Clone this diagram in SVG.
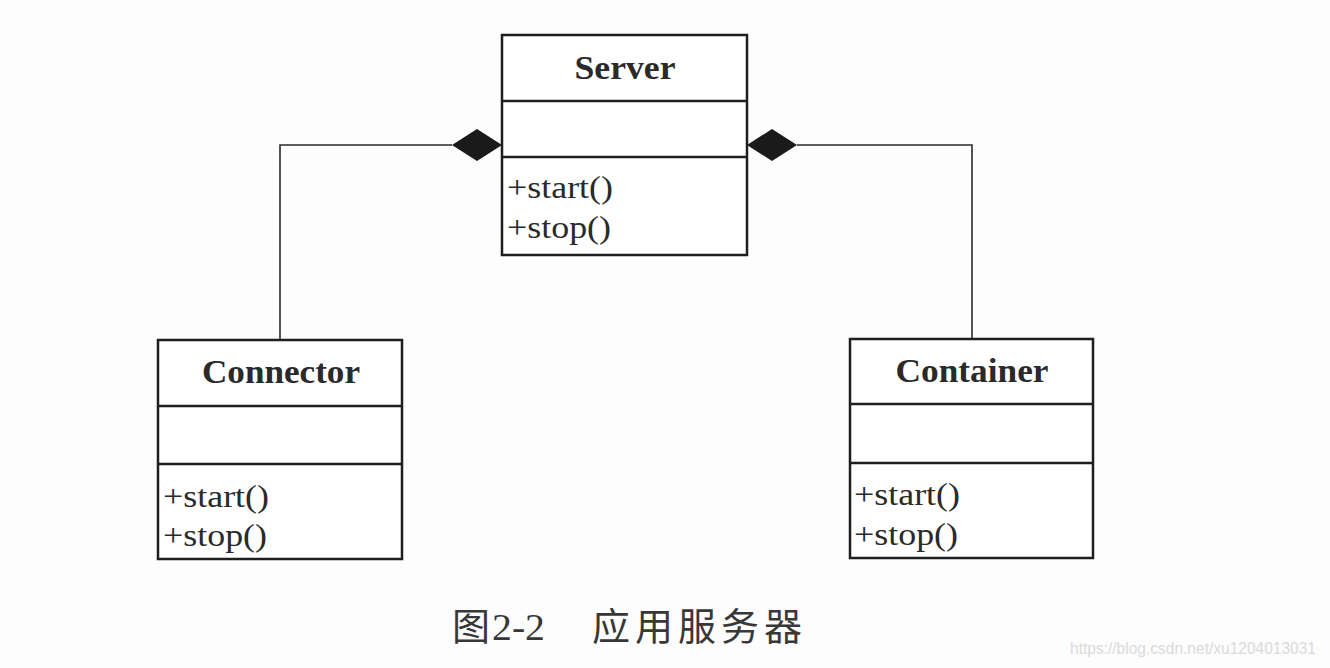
<svg xmlns="http://www.w3.org/2000/svg" width="1330" height="668" viewBox="0 0 1330 668">
<style>
.box{fill:#fff;stroke:#1e1e1e;stroke-width:2.5}
.div{stroke:#1e1e1e;stroke-width:2.5}
.title{font-family:"Liberation Serif",serif;font-weight:bold;font-size:34px;fill:#2a2a2a;text-anchor:middle}
.op{font-family:"Liberation Serif",serif;font-size:32px;fill:#2a2a2a}
.conn{fill:none;stroke:#2a2a2a;stroke-width:1.6}
.dia{fill:#1a1a1a}
</style>
<rect width="1330" height="668" fill="#fdfdfd"/>
<g id="connectors">
<polyline class="conn" points="452,145 280,145 280,340"/>
<polyline class="conn" points="797,145 972,145 972,339"/>
<polygon class="dia" points="502,145 477,129 452,145 477,161"/>
<polygon class="dia" points="747,145 772,129 797,145 772,161"/>
</g>
<g id="server">
<rect class="box" x="502" y="35" width="245" height="220"/>
<line class="div" x1="502" y1="101" x2="747" y2="101"/>
<line class="div" x1="502" y1="157" x2="747" y2="157"/>
<text class="title" x="625" y="79" textLength="101" lengthAdjust="spacingAndGlyphs">Server</text>
<text class="op" x="507" y="198" textLength="106" lengthAdjust="spacingAndGlyphs">+start()</text>
<text class="op" x="507" y="238" textLength="104" lengthAdjust="spacingAndGlyphs">+stop()</text>
</g>
<g id="connector">
<rect class="box" x="158" y="340" width="244" height="219"/>
<line class="div" x1="158" y1="406" x2="402" y2="406"/>
<line class="div" x1="158" y1="464" x2="402" y2="464"/>
<text class="title" x="281" y="383" textLength="158" lengthAdjust="spacingAndGlyphs">Connector</text>
<text class="op" x="163" y="507" textLength="106" lengthAdjust="spacingAndGlyphs">+start()</text>
<text class="op" x="163" y="546" textLength="104" lengthAdjust="spacingAndGlyphs">+stop()</text>
</g>
<g id="container">
<rect class="box" x="850" y="339" width="243" height="219"/>
<line class="div" x1="850" y1="404" x2="1093" y2="404"/>
<line class="div" x1="850" y1="463" x2="1093" y2="463"/>
<text class="title" x="972" y="382" textLength="153" lengthAdjust="spacingAndGlyphs">Container</text>
<text class="op" x="854" y="505" textLength="106" lengthAdjust="spacingAndGlyphs">+start()</text>
<text class="op" x="854" y="545" textLength="104" lengthAdjust="spacingAndGlyphs">+stop()</text>
</g>
<g id="caption" fill="#383838">
<text x="452" y="640" font-family="'Noto Sans CJK SC',sans-serif" font-size="38">图</text>
<text x="492" y="640" font-family="'Liberation Serif',serif" font-size="38" textLength="53" lengthAdjust="spacingAndGlyphs">2-2</text>
<text x="592" y="640" font-family="'Noto Sans CJK SC',sans-serif" font-size="38" textLength="210" lengthAdjust="spacing">应用服务器</text>
</g>
<text x="1070" y="654" font-family="'Liberation Sans',sans-serif" font-size="16" fill="#dadada" textLength="246" lengthAdjust="spacingAndGlyphs">https://blog.csdn.net/xu1204013031</text>
</svg>
